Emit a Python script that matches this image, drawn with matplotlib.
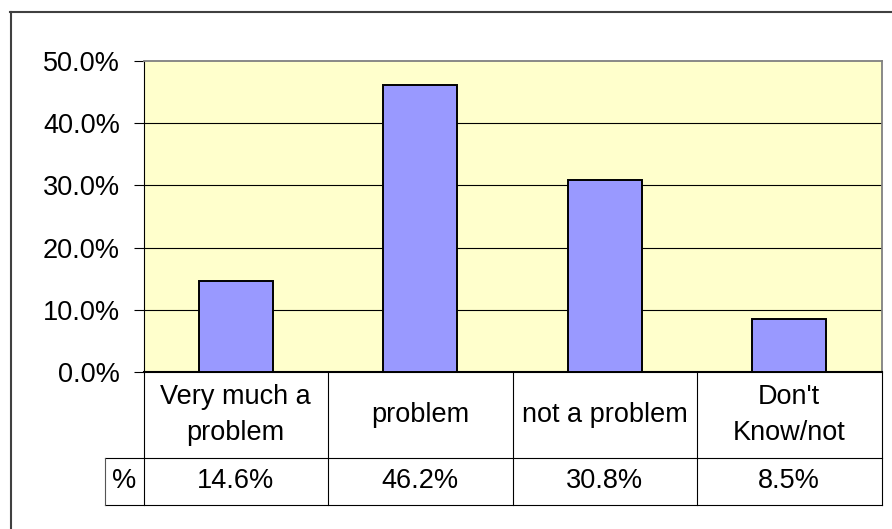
import matplotlib
matplotlib.use("Agg")
import matplotlib.pyplot as plt
from matplotlib.transforms import blended_transform_factory
from matplotlib.lines import Line2D
from matplotlib.ticker import FuncFormatter

plt.rcParams["font.family"] = ["Liberation Sans", "DejaVu Sans"]

categories = ["Very much a\nproblem", "problem", "not a problem", "Don't\nKnow/not"]
values = [14.6, 46.2, 30.8, 8.5]
row_label = "%"
y_ticks = [0, 10, 20, 30, 40, 50]

FS = 19.5
W, H = 892, 529
fig = plt.figure(figsize=(W / 100, H / 100), dpi=100)
fig.patch.set_facecolor("white")

# plot area in pixels
left, right, top, bottom = 143.5, 881.5, 61, 372
ax = fig.add_axes([left / W, (H - bottom) / H, (right - left) / W, (bottom - top) / H])
ax.set_facecolor("#FFFFCC")

x = list(range(len(categories)))
ax.bar(x, values, width=0.4, color="#9999FF", edgecolor="black", linewidth=1.4, zorder=3)

ax.set_xlim(-0.5, len(categories) - 0.5)
ax.set_ylim(0, 50)
ax.set_yticks(y_ticks)
ax.yaxis.set_major_formatter(FuncFormatter(lambda v, p: f"{v:.1f}%"))
ax.tick_params(axis="y", length=7, width=0.8, labelsize=FS, pad=10, direction="out")
ax.set_xticks([])
for v in y_ticks[1:-1]:
    ax.axhline(v, color="black", linewidth=0.8, zorder=1)

ax.spines["top"].set_color("#808080")
ax.spines["right"].set_color("#808080")
ax.spines["top"].set_linewidth(1.3)
ax.spines["right"].set_linewidth(1.3)
ax.spines["left"].set_color("black")
ax.spines["left"].set_linewidth(0.8)
ax.spines["bottom"].set_color("black")
ax.spines["bottom"].set_linewidth(1.5)

# data table under the plot
tr = blended_transform_factory(ax.transData, ax.transAxes)
ph = bottom - top
col_w = (right - left) / len(categories)
row1 = -(457.5 - bottom) / ph
row2 = -(505 - bottom) / ph
lab_left = -0.5 - (left - 105) / col_w

def tline(xs, ys, color="black", lw=0.8):
    ax.add_line(Line2D(xs, ys, transform=tr, color=color, linewidth=lw, clip_on=False))

n = len(categories)
for i in range(n + 1):
    tline([i - 0.5, i - 0.5], [0, row2])
tline([lab_left, n - 0.5], [row1, row1])
tline([lab_left, n - 0.5], [row2, row2])
tline([lab_left, lab_left], [row1, row2], color="#555555")

for i, (c, v) in enumerate(zip(categories, values)):
    ax.text(i, row1 / 2, c, transform=tr, ha="center", va="center",
            fontsize=FS, linespacing=1.5, clip_on=False)
    ax.text(i, (row1 + row2) / 2, f"{v:.1f}%", transform=tr, ha="center", va="center",
            fontsize=FS, clip_on=False)
ax.text((lab_left - 0.5) / 2, (row1 + row2) / 2, row_label, transform=tr,
        ha="center", va="center", fontsize=FS, clip_on=False)

# outer chart border (only left and top visible)
fig.add_artist(Line2D([10.5 / W, 10.5 / W], [0, 1 - 12 / H], transform=fig.transFigure,
                      color="#404040", linewidth=1.5))
fig.add_artist(Line2D([10 / W, 1], [1 - 12 / H, 1 - 12 / H], transform=fig.transFigure,
                      color="#404040", linewidth=1.5))

fig.savefig("out.png", dpi=100)
